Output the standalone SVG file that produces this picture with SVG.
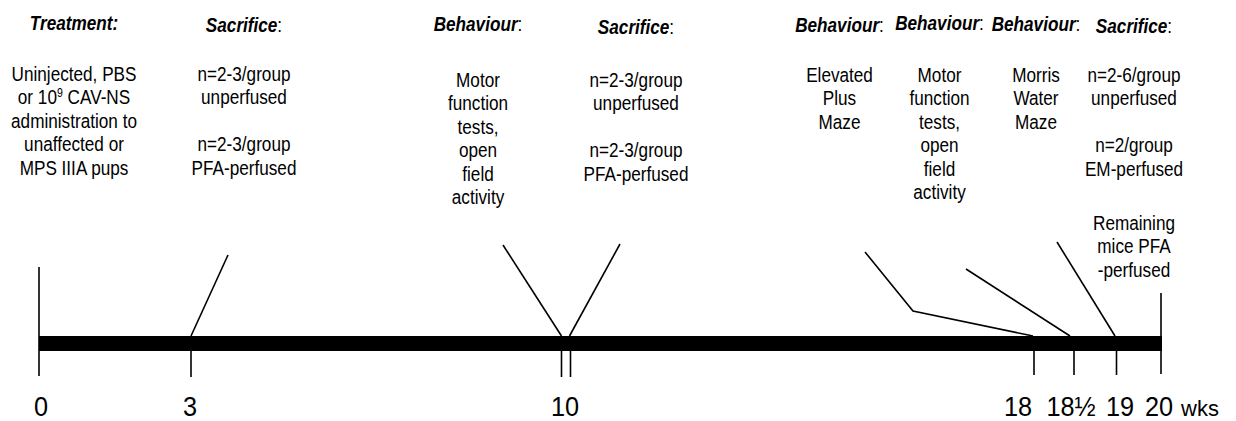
<svg xmlns="http://www.w3.org/2000/svg" width="1236" height="421" viewBox="0 0 1236 421">
<style>
text{font-family:"Liberation Sans",Arial,sans-serif;fill:#000;text-anchor:middle}
.b{font-size:19.5px}
.h{font-size:19.5px;font-weight:bold;font-style:italic}
.c{font-weight:normal;font-style:normal}
.d{font-size:27.5px}
.w{font-size:22px;text-anchor:start}
.ln{stroke:#000;stroke-width:1.6;fill:none}
</style>
<rect width="1236" height="421" fill="#fff"/>
<g id="connectors">
<rect x="39" y="336" width="1123" height="15" fill="#000"/>
<line class="ln" x1="39" y1="267" x2="39" y2="376"/>
<line class="ln" x1="191" y1="351" x2="191" y2="377"/>
<line class="ln" x1="191" y1="336" x2="228" y2="255"/>
<line class="ln" x1="561.5" y1="351" x2="561.5" y2="377"/>
<line class="ln" x1="570.5" y1="351" x2="570.5" y2="377"/>
<line class="ln" x1="561.5" y1="336" x2="503" y2="245"/>
<line class="ln" x1="569.5" y1="336" x2="620" y2="244"/>
<polyline class="ln" points="865,252 913,311 1033,336"/>
<line class="ln" x1="966" y1="269" x2="1070" y2="336"/>
<line class="ln" x1="1057" y1="242" x2="1115" y2="336"/>
<line class="ln" x1="1034" y1="351" x2="1034" y2="375"/>
<line class="ln" x1="1074" y1="351" x2="1074" y2="375"/>
<line class="ln" x1="1116.5" y1="351" x2="1116.5" y2="375"/>
<line class="ln" x1="1161" y1="293" x2="1161" y2="374" stroke-width="2"/>
</g>
<g id="treatment" transform="translate(74 0) scale(0.88 1)">
<text class="h" x="0" y="30">Treatment:</text>
<text class="b" x="0" y="81">Uninjected, PBS</text>
<text class="b" x="0" y="104.5">or 10<tspan font-size="12" dy="-7">9</tspan><tspan dy="7"> CAV-NS</tspan></text>
<text class="b" x="0" y="128">administration to</text>
<text class="b" x="0" y="151.5">unaffected or</text>
<text class="b" x="0" y="175">MPS IIIA pups</text>
</g>
<g id="sacrifice1" transform="translate(244 0) scale(0.88 1)">
<text class="h" x="0" y="32">Sacrifice<tspan class="c">:</tspan></text>
<text class="b" x="0" y="81">n=2-3/group</text>
<text class="b" x="0" y="104.5">unperfused</text>
<text class="b" x="0" y="151.5">n=2-3/group</text>
<text class="b" x="0" y="175">PFA-perfused</text>
</g>
<g id="behaviour1" transform="translate(478 0) scale(0.88 1)">
<text class="h" x="0" y="31">Behaviour<tspan class="c">:</tspan></text>
<text class="b" x="0" y="87">Motor</text>
<text class="b" x="0" y="110.5">function</text>
<text class="b" x="0" y="134">tests,</text>
<text class="b" x="0" y="157.5">open</text>
<text class="b" x="0" y="181">field</text>
<text class="b" x="0" y="204.5">activity</text>
</g>
<g id="sacrifice2" transform="translate(636 0) scale(0.88 1)">
<text class="h" x="0" y="34">Sacrifice<tspan class="c">:</tspan></text>
<text class="b" x="0" y="87">n=2-3/group</text>
<text class="b" x="0" y="110.5">unperfused</text>
<text class="b" x="0" y="157.5">n=2-3/group</text>
<text class="b" x="0" y="181">PFA-perfused</text>
</g>
<g id="behaviour2" transform="translate(839.5 0) scale(0.88 1)">
<text class="h" x="0" y="32">Behaviour<tspan class="c">:</tspan></text>
<text class="b" x="0" y="82">Elevated</text>
<text class="b" x="0" y="105.5">Plus</text>
<text class="b" x="0" y="129">Maze</text>
</g>
<g id="behaviour3" transform="translate(939.5 0) scale(0.88 1)">
<text class="h" x="0" y="30">Behaviour<tspan class="c">:</tspan></text>
<text class="b" x="0" y="82">Motor</text>
<text class="b" x="0" y="105.5">function</text>
<text class="b" x="0" y="129">tests,</text>
<text class="b" x="0" y="152.5">open</text>
<text class="b" x="0" y="176">field</text>
<text class="b" x="0" y="199.5">activity</text>
</g>
<g id="behaviour4" transform="translate(1036 0) scale(0.88 1)">
<text class="h" x="0" y="31">Behaviour<tspan class="c">:</tspan></text>
<text class="b" x="0" y="82">Morris</text>
<text class="b" x="0" y="105.5">Water</text>
<text class="b" x="0" y="129">Maze</text>
</g>
<g id="sacrifice3" transform="translate(1134 0) scale(0.88 1)">
<text class="h" x="0" y="33">Sacrifice<tspan class="c">:</tspan></text>
<text class="b" x="0" y="82">n=2-6/group</text>
<text class="b" x="0" y="105.5">unperfused</text>
<text class="b" x="0" y="152.5">n=2/group</text>
<text class="b" x="0" y="176">EM-perfused</text>
<text class="b" x="0" y="230">Remaining</text>
<text class="b" x="0" y="253.5">mice PFA</text>
<text class="b" x="0" y="277">-perfused</text>
</g>
<g id="axis-labels">
<g transform="translate(41 0) scale(0.92 1)"><text class="d" x="0" y="416">0</text></g>
<g transform="translate(190 0) scale(0.92 1)"><text class="d" x="0" y="416">3</text></g>
<g transform="translate(565 0) scale(0.92 1)"><text class="d" x="0" y="416">10</text></g>
<g transform="translate(1018 0) scale(0.92 1)"><text class="d" x="0" y="416">18</text></g>
<g transform="translate(1071 0) scale(0.92 1)"><text class="d" x="0" y="416">18½</text></g>
<g transform="translate(1120 0) scale(0.92 1)"><text class="d" x="0" y="416">19</text></g>
<g transform="translate(1159 0) scale(0.92 1)"><text class="d" x="0" y="416">20</text></g>
<text class="w" x="1181" y="416">wks</text>
</g>
</svg>
